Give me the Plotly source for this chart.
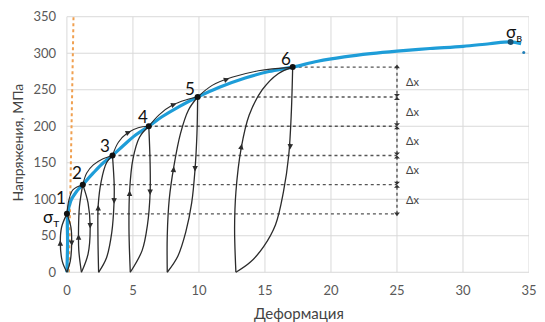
import plotly.graph_objects as go

FONT = "Lato"

# ---------------- data ----------------
x_ticks = [0, 5, 10, 15, 20, 25, 30, 35]
y_ticks = [0, 50, 100, 150, 200, 250, 300, 350]

# marked points: sigma_T, 2, 3, 4, 5, 6
pt_x = [0.0, 1.2, 3.45, 6.2, 9.9, 17.1]
pt_y = [80, 120, 160, 200, 240, 281]

# point labels
lab_text = ["1", "2", "3", "4", "5", "6"]
lab_x = [-0.45, 0.8, 2.9, 5.75, 9.3, 16.6]
lab_y = [102, 137, 173, 213, 252, 293]
sigT_label_y = 75

sigB_x = [33.6]
sigB_y = [315.5]
stray_x = [34.6]
stray_y = [301]

# envelope (blue) curve
env_x = [0.0, 0.05, 0.06, 0.3, 0.7, 1.2, 2.0, 2.7, 3.45, 4.3, 5.2, 6.2, 7.2, 8.5,
         9.9, 11.5, 13.5, 15.3, 17.1, 19.0, 21.0, 23.0, 25.0, 27.5, 30.0, 32.0,
         33.6, 34.4]
env_y = [0, 40, 80, 98, 110, 120, 136, 149, 160, 174, 188, 200, 213, 227,
         240, 253, 266, 275, 281, 289, 295, 299.5, 303, 306.5, 309.5, 313,
         315.5, 313]

# unloading / reloading loops (left = reload branch, right = unload branch)
loop_left_x = [
    [0.0, -0.35, -0.5, -0.4, 0.0],
    [1.1, 0.9, 0.88, 0.95, 1.2],
    [2.4, 2.35, 2.37, 2.6, 3.0, 3.45],
    [4.8, 4.7, 4.75, 5.0, 5.5, 6.2],
    [7.6, 7.6, 7.75, 8.1, 8.6, 9.2, 9.9],
    [12.8, 12.7, 12.8, 13.2, 13.8, 14.8, 16.0, 17.1],
]
loop_left_y = [
    [0, 15, 40, 62, 80],
    [0, 30, 60, 90, 120],
    [0, 50, 92, 125, 150, 160],
    [0, 60, 112, 155, 185, 200],
    [0, 50, 100, 145, 190, 222, 240],
    [0, 60, 110, 170, 215, 250, 272, 281],
]
loop_right_x = [
    [0.0, 0.3, 0.36, 0.25, 0.0],
    [1.2, 1.6, 1.76, 1.6, 1.1],
    [3.45, 3.58, 3.57, 3.4, 3.0, 2.4],
    [6.2, 6.3, 6.3, 6.1, 5.7, 4.8],
    [9.9, 9.85, 9.7, 9.45, 9.0, 8.4, 7.6],
    [17.1, 17.0, 16.8, 16.4, 15.8, 14.9, 13.9, 12.8],
]
loop_right_y = [
    [80, 62, 40, 15, 0],
    [120, 95, 62, 25, 0],
    [160, 120, 96, 55, 20, 0],
    [200, 150, 108, 65, 30, 0],
    [240, 190, 140, 95, 55, 22, 0],
    [281, 220, 160, 110, 65, 35, 14, 0],
]

# black arcs between consecutive points (continued loading)
arc_x = [
    [0.0, 0.15, 0.45, 1.2],
    [1.2, 1.5, 2.0, 2.7, 3.45],
    [3.45, 3.9, 4.6, 5.4, 6.2],
    [6.2, 7.0, 8.0, 9.0, 9.9],
    [9.9, 11.0, 12.5, 14.5, 17.1],
]
arc_y = [
    [80, 99, 113, 120],
    [120, 136, 147, 155, 160],
    [160, 178, 191, 198, 200],
    [200, 216, 229, 236, 240],
    [240, 256, 267, 276, 281],
]

# direction arrows on curves: tip and a short tail
arr_tip_x = [-0.5, 0.36, 0.88, 1.76, 2.37, 3.57, 4.75, 6.3, 8.1, 9.7, 13.25, 16.9,
             1.7, 4.86, 8.3, 12.3]
arr_tip_y = [44, 36, 52, 60, 92, 94, 112, 106, 145, 138, 176, 168,
             141, 193, 231, 265.5]
arr_tail_x = [-0.5, 0.36, 0.88, 1.77, 2.37, 3.58, 4.74, 6.3, 8.05, 9.72, 13.15, 16.93,
              1.55, 4.6, 8.0, 12.0]
arr_tail_y = [34, 46, 42, 70, 82, 104, 102, 116, 135, 148, 166, 178,
              138, 191, 229, 263.5]

# dimension line (delta x)
dim_x = 25
dx_label_y = [261, 220, 181, 141, 100]

# elastic (orange dotted) line
el_x = [0.15, 0.5]
el_y = [0, 350]

# ---------------- figure ----------------
fig = go.Figure()

LOOP_COL = "#2b2b2b"
DASH_COL = "#555555"

# horizontal dashed levels
for px, py in zip(pt_x, pt_y):
    fig.add_trace(go.Scatter(x=[px, dim_x], y=[py, py], mode="lines",
                             line=dict(color=DASH_COL, width=1.4, dash="dot"),
                             hoverinfo="skip", showlegend=False))

# vertical dimension line
fig.add_trace(go.Scatter(x=[dim_x, dim_x], y=[pt_y[0], pt_y[-1]], mode="lines",
                         line=dict(color=DASH_COL, width=1.4, dash="dot"),
                         hoverinfo="skip", showlegend=False))
fig.add_trace(go.Scatter(x=[dim_x] * (len(pt_y) - 2), y=pt_y[1:-1], mode="markers",
                         marker=dict(symbol="hourglass", size=6, color="#333"),
                         hoverinfo="skip", showlegend=False))
fig.add_trace(go.Scatter(x=[dim_x, dim_x], y=[pt_y[0], pt_y[-1]], mode="markers",
                         marker=dict(symbol=["triangle-down", "triangle-up"], size=5,
                                     color="#333"),
                         hoverinfo="skip", showlegend=False))

# elastic line
fig.add_trace(go.Scatter(x=el_x, y=el_y, mode="lines",
                         line=dict(color="#f0a050", width=2, dash="dot"),
                         hoverinfo="skip", showlegend=False))

# envelope
fig.add_trace(go.Scatter(x=env_x, y=env_y, mode="lines", line_shape="spline",
                         line=dict(color="#1e9dd8", width=3.2),
                         hoverinfo="skip", showlegend=False))

# arcs
for ax_, ay_ in zip(arc_x, arc_y):
    fig.add_trace(go.Scatter(x=ax_, y=ay_, mode="lines", line_shape="spline",
                             line=dict(color=LOOP_COL, width=1.1),
                             hoverinfo="skip", showlegend=False))

# loops
for lx, ly in zip(loop_left_x, loop_left_y):
    fig.add_trace(go.Scatter(x=lx, y=ly, mode="lines", line_shape="spline",
                             line=dict(color=LOOP_COL, width=1.3),
                             hoverinfo="skip", showlegend=False))
for rx, ry in zip(loop_right_x, loop_right_y):
    fig.add_trace(go.Scatter(x=rx, y=ry, mode="lines", line_shape="spline",
                             line=dict(color=LOOP_COL, width=1.3),
                             hoverinfo="skip", showlegend=False))

# points
fig.add_trace(go.Scatter(x=pt_x, y=pt_y, mode="markers",
                         marker=dict(color="#111", size=6),
                         hoverinfo="skip", showlegend=False))
fig.add_trace(go.Scatter(x=sigB_x, y=sigB_y, mode="markers",
                         marker=dict(color="#1b4f6e", size=6),
                         hoverinfo="skip", showlegend=False))
fig.add_trace(go.Scatter(x=stray_x, y=stray_y, mode="markers",
                         marker=dict(color="#1f7fb8", size=3),
                         hoverinfo="skip", showlegend=False))

# gridlines as shapes
shapes = []
for xv in x_ticks:
    shapes.append(dict(type="line", xref="x", yref="y", x0=xv, x1=xv, y0=0, y1=350,
                       line=dict(color="#d9d9d9", width=1), layer="below"))
for yv in y_ticks:
    shapes.append(dict(type="line", xref="x", yref="y", x0=0, x1=35, y0=yv, y1=yv,
                       line=dict(color="#d9d9d9", width=1), layer="below"))

annotations = []
for tx, ty, hx, hy in zip(arr_tip_x, arr_tip_y, arr_tail_x, arr_tail_y):
    annotations.append(dict(x=tx, y=ty, ax=hx, ay=hy, xref="x", yref="y",
                            axref="x", ayref="y", text="", showarrow=True,
                            arrowhead=2, arrowsize=1.1, arrowwidth=1,
                            arrowcolor=LOOP_COL))
for t, x, y in zip(lab_text, lab_x, lab_y):
    annotations.append(dict(x=x, y=y, xref="x", yref="y", text=t, showarrow=False,
                            font=dict(family=FONT, size=17, color="#111")))
# sigma_T label (left of plot area)
annotations.append(dict(x=0.004, y=sigT_label_y, xref="paper", yref="y",
                        xanchor="right", yanchor="middle",
                        text="σ<sub>т</sub>", showarrow=False,
                        font=dict(family=FONT, size=17, color="#111")))
annotations.append(dict(x=33.9, y=328, xref="x", yref="y", text="σ<sub>в</sub>",
                        showarrow=False, font=dict(family=FONT, size=17, color="#111")))
for y in dx_label_y:
    annotations.append(dict(x=25.5, y=y, xref="x", yref="y", text="Δx", xanchor="left",
                            showarrow=False, font=dict(family=FONT, size=11, color="#444")))
# axis titles (paper coordinates)
annotations.append(dict(x=0.51, y=-0.156, xref="paper", yref="paper", text="Деформация",
                        xanchor="center", yanchor="middle",
                        showarrow=False, font=dict(family=FONT, size=15, color="#444")))
annotations.append(dict(x=-0.088, y=0.506, xref="paper", yref="paper",
                        xanchor="center", yanchor="middle",
                        text="Напряжения, МПа", textangle=-90, showarrow=False,
                        font=dict(family=FONT, size=14, color="#444")))

fig.update_layout(
    width=545, height=322,
    margin=dict(l=59, r=8, t=16, b=49),
    plot_bgcolor="white", paper_bgcolor="white",
    shapes=shapes, annotations=annotations,
    xaxis=dict(range=[-0.6, 35], tickvals=x_ticks, showgrid=False, zeroline=False,
               showline=False, ticks="", ticklabelstandoff=8,
               ticklabeloverflow="allow",
               tickfont=dict(family=FONT, size=13, color="#595959")),
    yaxis=dict(range=[-1, 351], tickvals=y_ticks, showgrid=False, zeroline=False,
               showline=False, ticks="", ticklabelstandoff=2,
               tickfont=dict(family=FONT, size=13, color="#595959")),
)

fig.write_html("out.html", config={"displayModeBar": False},
               post_script="document.body.style.margin='0';")
